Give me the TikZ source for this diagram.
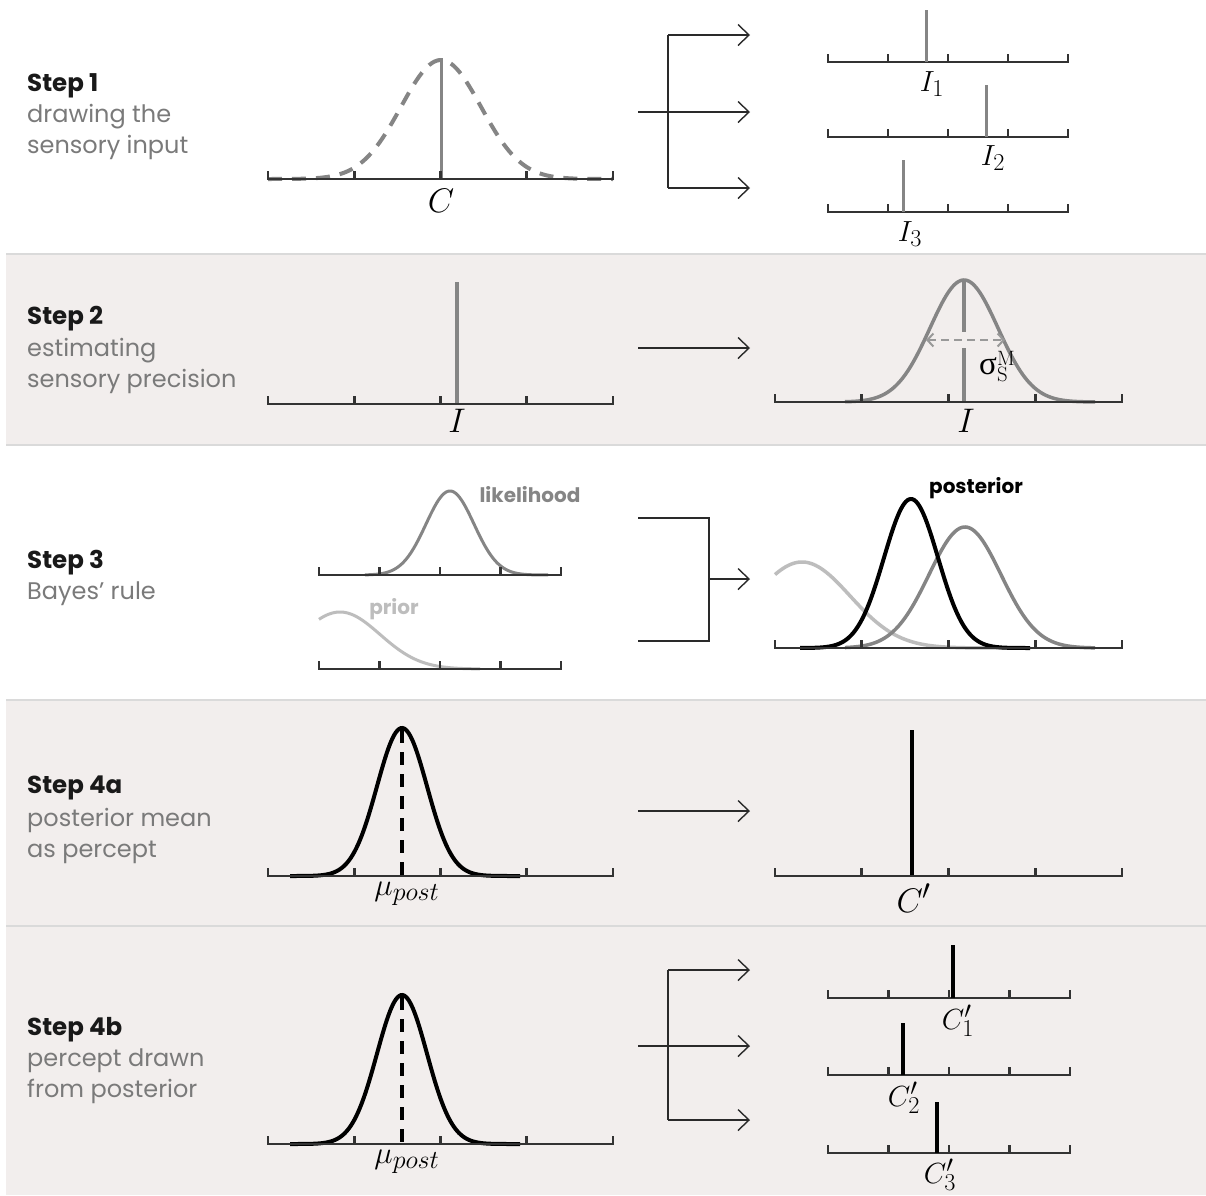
\documentclass[tikz,border=0pt]{standalone}
\usepackage{fontspec}
\newfontfamily\gothic{Poppins}
\newfontfamily\libser{Liberation Serif}
\usetikzlibrary{arrows.meta}
\definecolor{band}{HTML}{F2EEED}
\definecolor{bandline}{HTML}{DADADA}
\definecolor{axisc}{HTML}{333333}
\definecolor{midg}{HTML}{858585}
\definecolor{lightg}{HTML}{BDBDBD}
\definecolor{descg}{HTML}{7A7A7A}
\definecolor{connc}{HTML}{2A2A2A}
\newcommand\mathL[1]{\scalebox{1.37}{$#1$}}
\newcommand\mathM[1]{\scalebox{1.25}{$#1$}}
\newcommand\mathS[1]{\scalebox{1.17}{$#1$}}
\newcommand\myaxis[3]{%
  \draw[axisline] (#1,#3-8) -- (#1,#3) -- (#2,#3) -- (#2,#3-8);
  \foreach \k in {1,2,3} \draw[axisline] ({#1+\k*(#2-#1)/4},#3) -- ++(0,-8);
}
\newcommand\gauss[7]{%
  \draw[#1] plot[domain=#6:#7, samples=140, smooth]
    (\x, {#5 - #4*exp(-0.5*((\x-#2)/#3)*((\x-#2)/#3))});
}
\tikzset{
  axisline/.style={draw=axisc, line width=2.6pt, line join=miter},
  conn/.style={draw=connc, line width=1.4pt},
  tipd/.style={-{Straight Barb[length=11pt,width=21pt]}},
  gspike/.style={draw=midg, line width=3pt},
  bspike/.style={draw=black, line width=4pt},
  steplbl/.style={anchor=base west, inner sep=0pt, font=\gothic\bfseries\fontsize{24.5}{28}\selectfont, text=black!90},
  desclbl/.style={anchor=base west, inner sep=0pt, font=\gothic\fontsize{24}{28}\selectfont, text=descg},
  mathlbl/.style={inner sep=0pt, font=\fontsize{24.88}{30}\selectfont},
  curvelbl/.style={inner sep=0pt, font=\gothic\bfseries\fontsize{20}{24}\selectfont},
  midcurve/.style={draw=midg, line width=3.5pt},
  lightcurve/.style={draw=lightg, line width=3.5pt},
  blackcurve/.style={draw=black, line width=4pt},
}
\begin{document}
\begin{tikzpicture}[x=1pt,y=-1pt]
\useasboundingbox (0,0) rectangle (1206,1195);
\fill[white] (0,0) rectangle (1206,1195);
% bands
\fill[band] (6,254) rectangle (1206,445);
\fill[band] (6,700) rectangle (1206,1195);
\foreach \yy in {254,445,700,926} \draw[bandline, line width=1.5pt] (6,\yy) -- (1206,\yy);

% ---------------- Step 1
\node[steplbl] (s1) at (27,91) {Step 1};
\node[desclbl] (s1a) at (27,122) {drawing the};
\node[desclbl] (s1b) at (27,153) {sensory input};
\gauss{draw=midg, line width=4pt, dash pattern=on 14pt off 10pt}{441}{40}{119}{179}{268}{613}
\draw[gspike] (441,58) -- (441,179);
\myaxis{268}{613}{179}
\node[mathlbl] (lc) at (441,201) {\mathL{C}};
\coordinate (b1in) at (638,112);
\coordinate (b1top) at (668,35);
\coordinate (b1bot) at (668,188);
\coordinate (t1a) at (750,35);
\coordinate (t1b) at (750,112);
\coordinate (t1c) at (750,188);
\draw[conn] (b1top) -- (b1bot);
\draw[conn,tipd] (b1top) -- (t1a);
\draw[conn,tipd] (b1in) -- (t1b);
\draw[conn,tipd] (b1bot) -- (t1c);
\myaxis{828}{1068}{62}
\myaxis{828}{1068}{137}
\myaxis{828}{1068}{212}
\draw[gspike] (926,10) -- (926,62);
\draw[gspike] (986,85) -- (986,137);
\draw[gspike] (903,160) -- (903,212);
\node[mathlbl] (li1) at (932,84) {\mathS{I_1}};
\node[mathlbl] (li2) at (993,158) {\mathS{I_2}};
\node[mathlbl] (li3) at (910,234) {\mathS{I_3}};

% ---------------- Step 2
\node[steplbl] (s2) at (27,324) {Step 2};
\node[desclbl] (s2a) at (27,356) {estimating};
\node[desclbl] (s2b) at (27,387) {sensory precision};
\draw[gspike, line width=3.5pt] (457,282) -- (457,404);
\myaxis{268}{613}{404}
\node[mathlbl] (li) at (457,421) {\mathL{I}};
\coordinate (a2s) at (638,348);
\coordinate (a2e) at (750,348);
\draw[conn,tipd] (a2s) -- (a2e);
\gauss{midcurve}{964}{34}{122}{402}{845}{1095}
\draw[gspike, line width=3.5pt] (964,280) -- (964,332);
\draw[gspike, line width=3.5pt] (964,348) -- (964,402);
\coordinate (sl) at (926,340);
\coordinate (sr) at (1005,340);
\draw[draw=black!40, line width=2pt, dash pattern=on 8pt off 5pt,
  {Straight Barb[length=6pt,width=13pt]}-{Straight Barb[length=6pt,width=13pt]}] (sl) -- (sr);
\myaxis{775}{1122}{402}
\node[mathlbl] (li2r) at (966,421) {\mathL{I}};
\node[mathlbl, anchor=west] (lsig) at (979,367)
  {$\hbox{\libser\fontsize{33}{33}\selectfont σ}^{\mathrm{M}}_{\mathrm{S}}$};

% ---------------- Step 3
\node[steplbl] (s3) at (27,568) {Step 3};
\node[desclbl] (s3a) at (27,599) {Bayes’ rule};
\gauss{draw=midg, line width=3pt}{450}{24}{84}{575}{365}{548}
\myaxis{319}{561}{575}
\node[curvelbl, text=midg] (llik) at (530,495) {likelihood};
\gauss{draw=lightg, line width=3pt}{340}{40}{57}{669}{319}{480}
\myaxis{319}{561}{669}
\node[curvelbl, text=lightg] (lpri) at (394,609) {prior};
\coordinate (b3top) at (638,518);
\coordinate (b3tr) at (709,518);
\coordinate (b3br) at (709,641);
\coordinate (b3bot) at (638,641);
\coordinate (b3mid) at (709,579);
\coordinate (t3) at (750,579);
\draw[conn] (b3top) -- (b3tr) -- (b3br) -- (b3bot);
\draw[conn,tipd] (b3mid) -- (t3);
\gauss{lightcurve}{802}{48}{86}{648}{775}{1010}
\gauss{midcurve}{965}{36}{121}{648}{845}{1095}
\gauss{blackcurve}{911}{27}{149}{648}{800}{1030}
\myaxis{775}{1122}{648}
\node[curvelbl, text=black] (lpost) at (976,488) {posterior};

% ---------------- Step 4a
\node[steplbl] (s4) at (27,793) {Step 4a};
\node[desclbl] (s4a) at (27,826) {posterior mean};
\node[desclbl] (s4b) at (27,857) {as percept};
\gauss{blackcurve}{402}{25}{148}{876}{290}{520}
\draw[draw=black, line width=4pt, dash pattern=on 13pt off 9pt] (402,730) -- (402,876);
\myaxis{268}{613}{876}
\node[mathlbl] (lmu1) at (407,894) {\mathM{\mu_{post}}};
\coordinate (a4s) at (638,811);
\coordinate (a4e) at (750,811);
\draw[conn,tipd] (a4s) -- (a4e);
\draw[bspike] (912,730) -- (912,876);
\myaxis{775}{1122}{876}
\node[mathlbl] (lcp) at (914,898) {\mathL{C'}};

% ---------------- Step 4b
\node[steplbl] (s5) at (27,1035) {Step 4b};
\node[desclbl] (s5a) at (27,1066) {percept drawn};
\node[desclbl] (s5b) at (27,1097) {from posterior};
\gauss{blackcurve}{402}{25}{149}{1144}{290}{520}
\draw[draw=black, line width=4pt, dash pattern=on 13pt off 9pt] (402,997) -- (402,1144);
\myaxis{268}{613}{1144}
\node[mathlbl] (lmu2) at (407,1162) {\mathM{\mu_{post}}};
\coordinate (b5in) at (638,1046);
\coordinate (b5top) at (668,970);
\coordinate (b5bot) at (668,1120);
\coordinate (t5a) at (750,970);
\coordinate (t5b) at (750,1046);
\coordinate (t5c) at (750,1120);
\draw[conn] (b5top) -- (b5bot);
\draw[conn,tipd] (b5top) -- (t5a);
\draw[conn,tipd] (b5in) -- (t5b);
\draw[conn,tipd] (b5bot) -- (t5c);
\myaxis{828}{1070}{998}
\myaxis{828}{1070}{1075}
\myaxis{828}{1070}{1153}
\draw[bspike] (953,945) -- (953,998);
\draw[bspike] (903,1023) -- (903,1075);
\draw[bspike] (937,1102) -- (937,1153);
\node[mathlbl] (lc1) at (958,1021) {\mathS{C'_1}};
\node[mathlbl] (lc2) at (904,1098) {\mathS{C'_2}};
\node[mathlbl] (lc3) at (940,1175) {\mathS{C'_3}};
\end{tikzpicture}
\end{document}
